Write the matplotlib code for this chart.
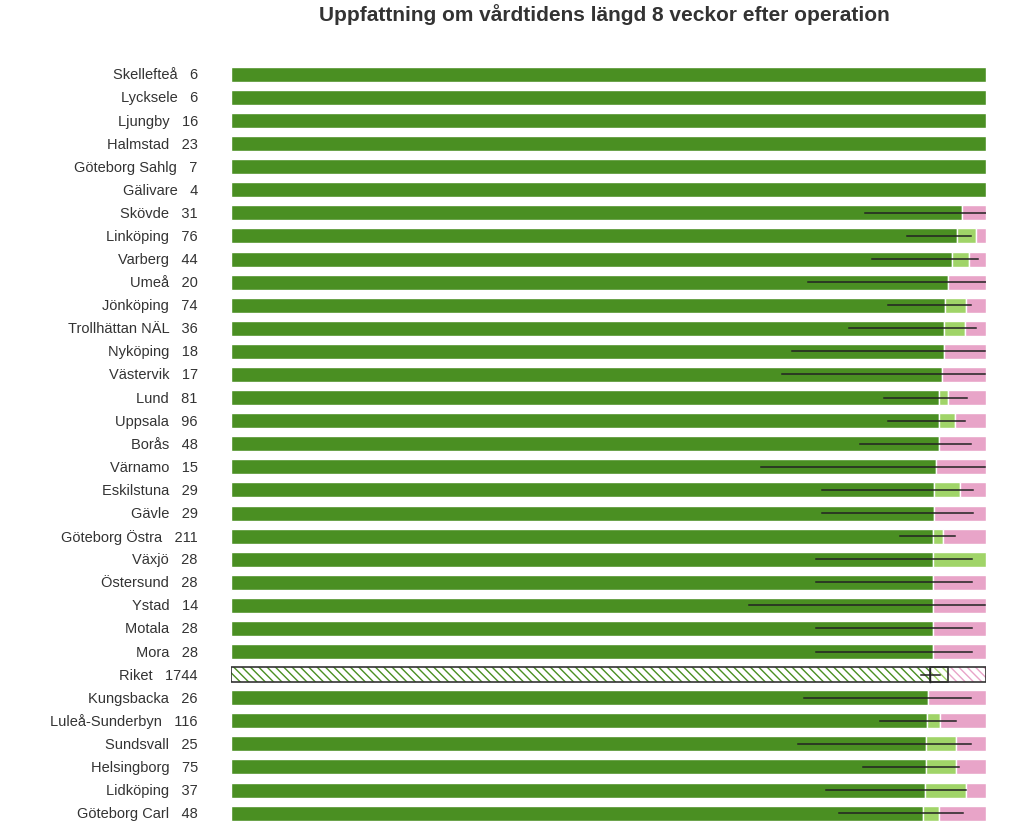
import matplotlib.pyplot as plt
import numpy as np

plt.rcParams["font.family"] = "Liberation Sans"

units = ["Skellefteå", "Lycksele", "Ljungby", "Halmstad", "Göteborg Sahlg", "Gälivare",
         "Skövde", "Linköping", "Varberg", "Umeå", "Jönköping", "Trollhättan NÄL",
         "Nyköping", "Västervik", "Lund", "Uppsala", "Borås", "Värnamo", "Eskilstuna",
         "Gävle", "Göteborg Östra", "Växjö", "Östersund", "Ystad", "Motala", "Mora",
         "Riket", "Kungsbacka", "Luleå-Sunderbyn", "Sundsvall", "Helsingborg",
         "Lidköping", "Göteborg Carl"]
n_pat = [6, 6, 16, 23, 7, 4, 31, 76, 44, 20, 74, 36, 18, 17, 81, 96, 48, 15, 29, 29,
         211, 28, 28, 14, 28, 28, 1744, 26, 116, 25, 75, 37, 48]
# andel (%) lagom / lite för kort / för kort
lagom = [100, 100, 100, 100, 100, 100, 96.8, 96.1, 95.5, 95.0, 94.6, 94.4, 94.4, 94.1,
         93.8, 93.75, 93.75, 93.3, 93.1, 93.1, 92.9, 92.9, 92.9, 92.9, 92.9, 92.9,
         92.6, 92.3, 92.2, 92.0, 92.0, 91.9, 91.7]
lite = [0, 0, 0, 0, 0, 0, 0, 2.6, 2.3, 0, 2.7, 2.8, 0, 0, 1.2, 2.1, 0, 0, 3.45, 0,
        1.4, 7.1, 0, 0, 0, 0, 2.4, 0, 1.7, 4.0, 4.0, 5.4, 2.1]
ci_lo = [None] * 6 + [84.0, 89.5, 84.9, 76.4, 87.0, 81.9, 74.3, 73.0, 86.5, 87.0, 83.3,
                      70.2, 78.2, 78.2, 88.6, 77.5, 77.5, 68.6, 77.5, 77.5, 91.4, 75.9,
                      86.0, 75.1, 83.7, 78.8, 80.5]
ci_hi = [None] * 6 + [100, 98.0, 98.9, 100, 98.0, 98.7, 99.9, 99.9, 97.5, 97.2, 98.0,
                      99.9, 98.3, 98.3, 95.9, 98.1, 98.1, 99.9, 98.1, 98.1, 93.9, 98.0,
                      96.0, 98.0, 96.4, 97.4, 97.0]

DARK, LIGHT, PINK = "#4a8f22", "#a0d468", "#e8a4c8"

fig = plt.figure(figsize=(10.24, 8.29), dpi=100)
ax = fig.add_axes([0.2256, 0.004, 0.7374, 0.919])
y = np.arange(len(units))
lagom = np.array(lagom)
lite = np.array(lite)
kort = 100 - lagom - lite

for i in y:
    riket = units[i] == "Riket"
    segs = [(0, lagom[i], DARK), (lagom[i], lite[i], LIGHT),
            (lagom[i] + lite[i], kort[i], PINK)]
    for left, w, c in segs:
        if w <= 0.01:
            continue
        if riket:
            ax.barh(i, w, left=left, height=0.65, color="white", edgecolor=c,
                    hatch="\\\\\\\\", linewidth=0)
        else:
            ax.barh(i, w, left=left, height=0.65, color=c, edgecolor="white",
                    linewidth=1)
    if riket:
        ax.barh(i, 100, height=0.65, fill=False, edgecolor="#333333", linewidth=1.2)
        ax.barh(i, lite[i], left=lagom[i], height=0.65, fill=False,
                edgecolor="#333333", linewidth=1.2)
    if ci_lo[i] is not None:
        ax.plot([ci_lo[i], ci_hi[i]], [i, i], color="#222222", lw=1.1)
        if riket:
            ax.plot([lagom[i], lagom[i]], [i - 0.3, i + 0.3], color="#222222", lw=1)

ax.set_xlim(0, 100)
ax.set_ylim(len(units) - 0.5, -0.5)
ax.axis("off")
for i in y:
    ax.text(-4.4, i, f"{units[i]}   {n_pat[i]}", ha="right", va="center",
            fontsize=10.5, color="#333333")

fig.text(0.59, 0.982, "Uppfattning om vårdtidens längd 8 veckor efter operation",
         ha="center", va="center", fontsize=15, fontweight="bold", color="#333333")
fig.savefig("out.png")
